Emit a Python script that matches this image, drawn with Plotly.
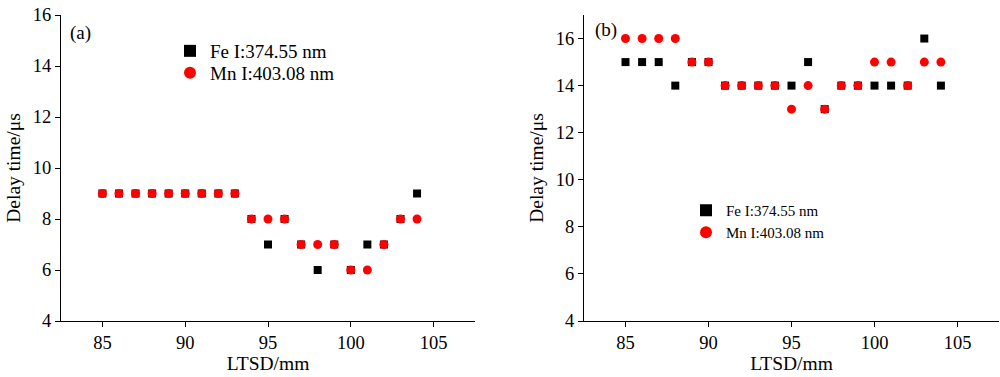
import plotly.graph_objects as go

ltsd = list(range(85, 105))
fe_a = [9, 9, 9, 9, 9, 9, 9, 9, 9, 8, 7, 8, 7, 6, 7, 6, 7, 7, 8, 9]
mn_a = [9, 9, 9, 9, 9, 9, 9, 9, 9, 8, 8, 8, 7, 7, 7, 6, 6, 7, 8, 8]
fe_b = [15, 15, 15, 14, 15, 15, 14, 14, 14, 14, 14, 15, 13, 14, 14, 14, 14, 14, 16, 14]
mn_b = [16, 16, 16, 16, 15, 15, 14, 14, 14, 14, 13, 14, 13, 14, 14, 15, 15, 14, 15, 15]
fe_name = "Fe I:374.55 nm"
mn_name = "Mn I:403.08 nm"
x_ticks = [85, 90, 95, 100, 105]

FONT = "Liberation Serif"
fig = go.Figure()

fig.add_trace(go.Scatter(x=ltsd, y=fe_a, mode="markers", name=fe_name, showlegend=True,
                         marker=dict(symbol="square", size=8, color="black"),
                         xaxis="x", yaxis="y", legend="legend"))
fig.add_trace(go.Scatter(x=ltsd, y=mn_a, mode="markers", name=mn_name, showlegend=True,
                         marker=dict(symbol="circle", size=9, color="red"),
                         xaxis="x", yaxis="y", legend="legend3"))
fig.add_trace(go.Scatter(x=ltsd, y=fe_b, mode="markers", name=fe_name, showlegend=True,
                         marker=dict(symbol="square", size=8, color="black"),
                         xaxis="x2", yaxis="y2", legend="legend2"))
fig.add_trace(go.Scatter(x=ltsd, y=mn_b, mode="markers", name=mn_name, showlegend=True,
                         marker=dict(symbol="circle", size=9, color="red"),
                         xaxis="x2", yaxis="y2", legend="legend4"))

W, H = 1000, 377
def px_x(p):
    return p / W
def px_y(p):
    return 1 - p / H

axis_common = dict(showline=True, linecolor="black", linewidth=1.3, ticks="outside",
                   ticklen=5, tickcolor="black", showgrid=False, zeroline=False,
                   tickfont=dict(family=FONT, size=18.5, color="black"), automargin=False)

def leg(xp, yp, size):
    return dict(x=px_x(xp), y=px_y(yp), xanchor="left", yanchor="top",
                bgcolor="rgba(0,0,0,0)", font=dict(family=FONT, size=size),
                tracegroupgap=0, itemsizing="constant")

TF = dict(family=FONT, size=19.5)
fig.update_layout(
    width=W, height=H,
    showlegend=True,
    margin=dict(l=0, r=0, t=0, b=0),
    paper_bgcolor="white", plot_bgcolor="white",
    font=dict(family=FONT, color="black"),
    xaxis=dict(domain=[px_x(61), px_x(475)], range=[82.5, 107.5], tickvals=x_ticks,
               anchor="y", title=dict(text="LTSD/mm", font=TF, standoff=1),
               **axis_common),
    yaxis=dict(domain=[px_y(321), px_y(15)], range=[4, 16], dtick=2, tick0=4,
               anchor="x", title=dict(text="Delay time/μs", font=TF, standoff=6),
               **axis_common),
    xaxis2=dict(domain=[px_x(584), px_x(999)], range=[82.5, 107.5], tickvals=x_ticks,
                anchor="y2", title=dict(text="LTSD/mm", font=TF, standoff=1),
                **axis_common),
    yaxis2=dict(domain=[px_y(321), px_y(15)], range=[4, 17], dtick=2, tick0=4,
                anchor="x2", title=dict(text="Delay time/μs", font=TF, standoff=6),
                **axis_common),
    legend=leg(170, 32, 19),
    legend3=leg(170, 54, 19),
    legend2=leg(686, 194, 15),
    legend4=leg(686, 216, 15),
    annotations=[
        dict(text="(a)", x=px_x(68), y=px_y(33), xref="paper", yref="paper",
             xanchor="left", yanchor="middle", showarrow=False, font=dict(family=FONT, size=19)),
        dict(text="(b)", x=px_x(593), y=px_y(30), xref="paper", yref="paper",
             xanchor="left", yanchor="middle", showarrow=False, font=dict(family=FONT, size=19)),
    ],
)

fig.write_html("out.html", config={"displayModeBar": False},
               post_script="document.body.style.margin='0';document.body.style.padding='0';")
